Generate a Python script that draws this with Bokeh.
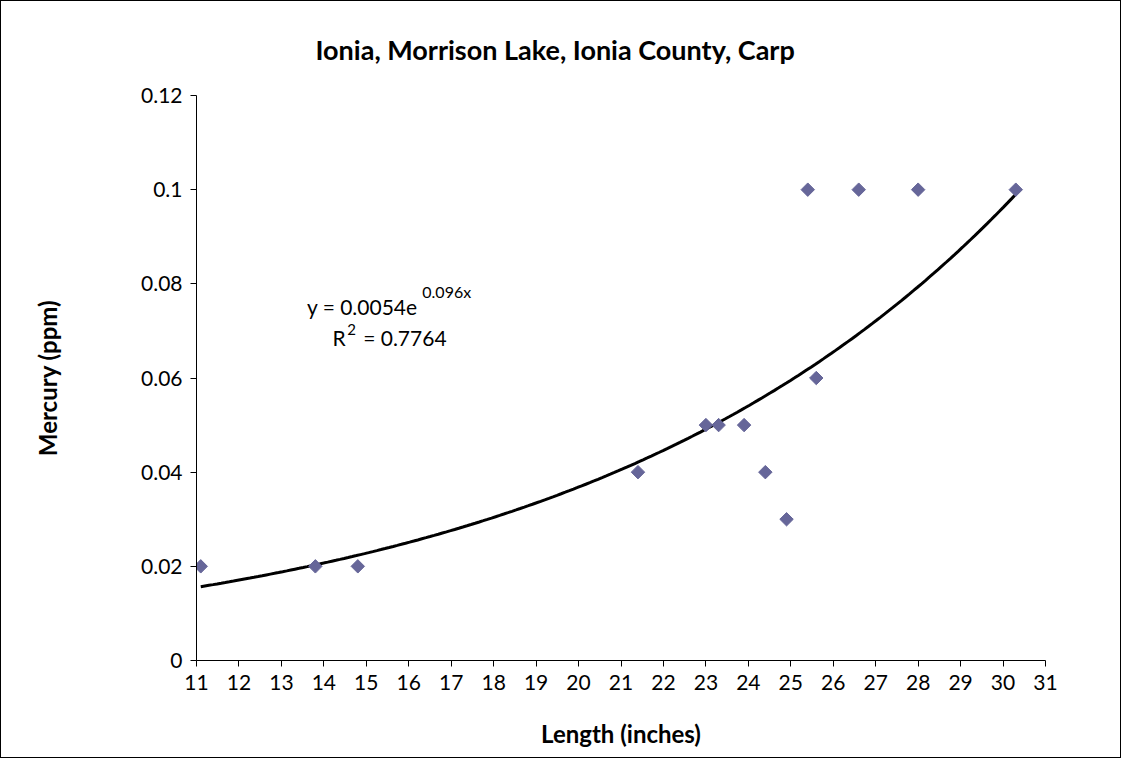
import numpy as np
from bokeh.plotting import figure
from bokeh.models import FixedTicker, NumeralTickFormatter, Label, ColumnDataSource
from bokeh.embed import file_html
from bokeh.resources import INLINE

# data
length_in = [11.1, 13.8, 14.8, 21.4, 23.0, 23.3, 23.9, 24.4, 24.9, 25.6, 25.4, 26.6, 28.0, 30.3]
mercury_ppm = [0.02, 0.02, 0.02, 0.04, 0.05, 0.05, 0.05, 0.04, 0.03, 0.06, 0.1, 0.1, 0.1, 0.1]
trend_a = 0.0054
trend_b = 0.096
x_ticks = list(range(11, 32))
y_ticks = [0, 0.02, 0.04, 0.06, 0.08, 0.1, 0.12]

FONT = "Lato"

p = figure(width=1121, height=758, x_range=(11, 31), y_range=(0, 0.12),
           output_backend="svg", toolbar_location=None,
           min_border_left=195, min_border_right=77, min_border_top=92, min_border_bottom=99)
p.styles = {"border": "1px solid black"}
p.outline_line_color = None
p.xgrid.visible = False
p.ygrid.visible = False
p.background_fill_color = "white"
p.border_fill_color = "white"

# trendline from the displayed fit
xs = np.linspace(min(length_in), max(length_in), 200)
ys = trend_a * np.exp(trend_b * xs)
p.line(xs, ys, line_color="black", line_width=3)

src = ColumnDataSource(dict(x=length_in, y=mercury_ppm))
p.scatter("x", "y", source=src, marker="square", angle=np.pi / 4, size=9.5,
          fill_color="#666699", line_color="#666699")

for ax in (p.xaxis[0], p.yaxis[0]):
    ax.axis_line_color = "black"
    ax.major_tick_line_color = "black"
    ax.major_tick_out = 6
    ax.major_tick_in = 0
    ax.minor_tick_line_color = None
    ax.major_label_text_font = FONT
    ax.major_label_text_font_size = "21px"
    ax.major_label_text_color = "black"
    ax.axis_label_text_font = FONT
    ax.axis_label_text_font_style = "bold"
    ax.axis_label_text_font_size = "24px"
    ax.axis_label_text_color = "black"

p.xaxis.ticker = FixedTicker(ticks=x_ticks)
p.yaxis.ticker = FixedTicker(ticks=y_ticks)
p.yaxis.formatter = NumeralTickFormatter(format="0.[00]")
p.xaxis.axis_label = "Length (inches)"
p.yaxis.axis_label = "Mercury (ppm)"
p.xaxis.major_label_standoff = 8
p.yaxis.major_label_standoff = 8
p.xaxis.axis_label_standoff = 26
p.yaxis.axis_label_standoff = 76

p.title.text = "Ionia, Morrison Lake, Ionia County, Carp"
p.title.text_font = FONT
p.title.text_font_size = "27px"
p.title.text_font_style = "bold"
p.title.text_color = "black"
p.title.align = "left"
p.title.offset = 119
p.title.standoff = 59

def dx(px):
    return 11 + (px - 199) / 43.05

def dy(py):
    return (674 - py) * 0.12 / 579

labels = [
    ("y = 0.0054e", dx(311), dy(311), "21px"),
    ("0.096x", dx(428), dy(296), "16px"),
    ("R", dx(337), dy(343), "21px"),
    ("2", dx(352), dy(335), "15px"),
    ("= 0.7764", dx(368), dy(343), "21px"),
]
for t, x, y, fs in labels:
    p.add_layout(Label(x=x, y=y, text=t, text_font=FONT, text_font_size=fs,
                       text_color="black", text_baseline="alphabetic", text_align="left"))

open("out.html", "w").write(file_html(p, INLINE))
